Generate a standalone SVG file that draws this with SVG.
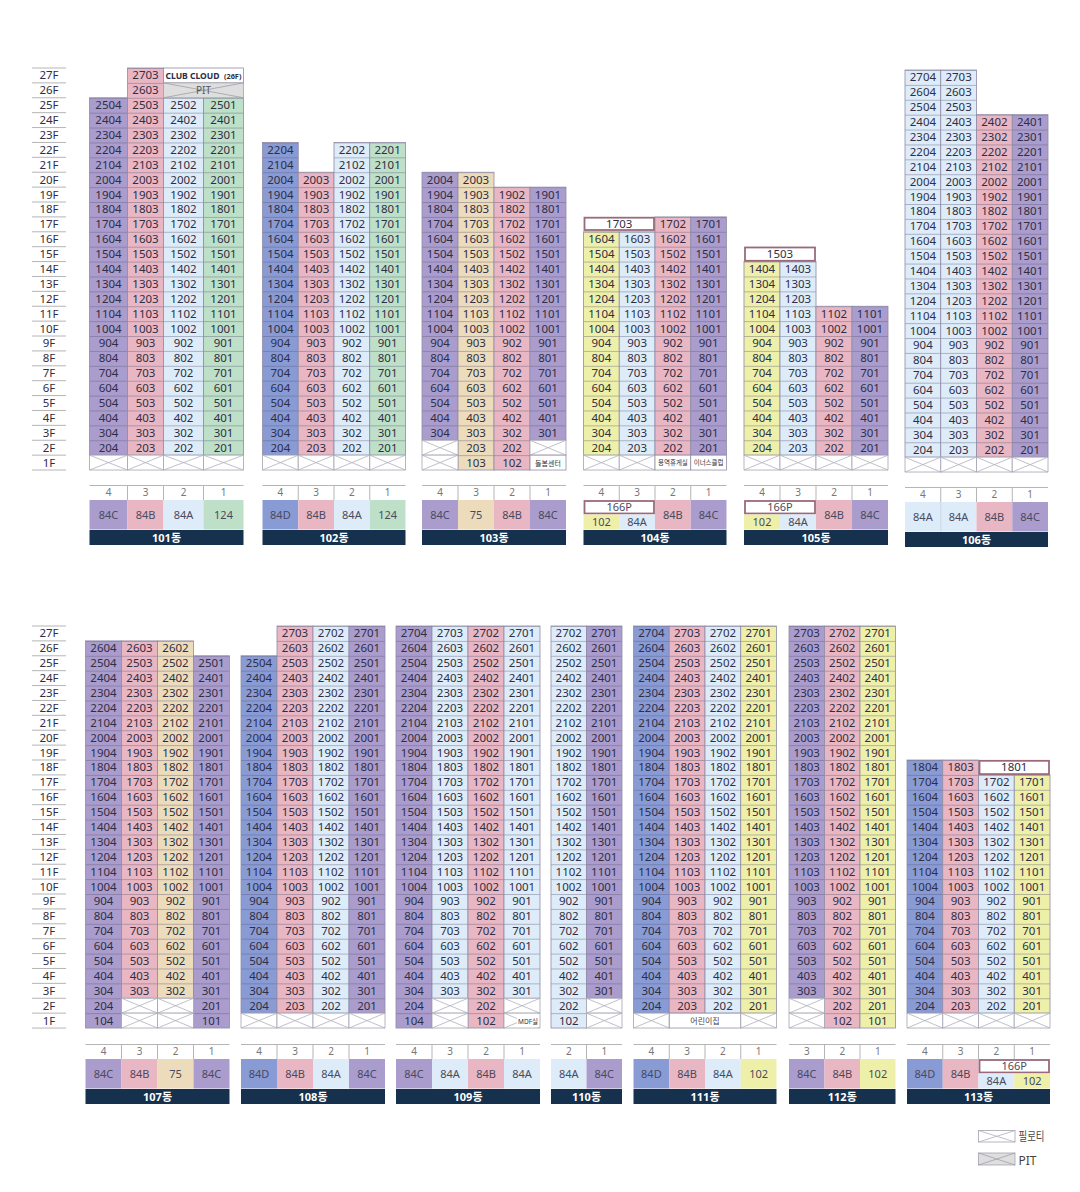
<svg xmlns="http://www.w3.org/2000/svg" width="1080" height="1192" viewBox="0 0 1080 1192">
<style>
text{font-family:"Noto Sans","Noto Sans CJK KR",sans-serif;font-size:11.5px;fill:#2e2e44;text-anchor:middle}
.c{stroke:#8e8ca6;stroke-width:.8}
.Pu{fill:url(#Pu)}.Pk{fill:url(#Pk)}.Lb{fill:url(#Lb)}.Gr{fill:url(#Gr)}.Bl{fill:url(#Bl)}.Tn{fill:url(#Tn)}.Ye{fill:url(#Ye)}
.pu{fill:#aa9dcd}.pk{fill:#e9b7c3}.lb{fill:#ddecf8}.gr{fill:#bee0c8}.bl{fill:#899bd5}.tn{fill:#ecdcbc}.ye{fill:#eef0aa}
.bar{fill:#15314d}.bt{fill:#fff;font-weight:700;font-size:11px}
.n{fill:#777;font-size:10px}.u{fill:#4a4a5e;font-size:11px}
.ln{stroke:#b5b5b5;stroke-width:1;fill:none}
.box{fill:#fff;stroke:#9a6a7c;stroke-width:1.8}
.wc{fill:#fff;stroke:#8e8ca6;stroke-width:.8}
.fl{fill:#555;font-size:11px}
.sm{font-size:6.5px;fill:#333}
.sm7{font-size:7px;fill:#333}
.cl{font-size:9.5px;font-weight:700;text-anchor:start}
.cs{font-size:6.5px;font-weight:700;text-anchor:start}
.pit{font-size:10px;fill:#555}
.kid{font-size:8px;fill:#444}
.lg{font-size:12px;fill:#444;text-anchor:start}
</style>
<defs>
<pattern id="Pu" width="50" height="15" patternUnits="userSpaceOnUse"><rect width="50" height="15" fill="#aa9dcd"/><rect width="50" height=".8" fill="#5c5878" opacity=".5"/></pattern>
<pattern id="Pk" width="50" height="15" patternUnits="userSpaceOnUse"><rect width="50" height="15" fill="#e9b7c3"/><rect width="50" height=".8" fill="#5c5878" opacity=".5"/></pattern>
<pattern id="Lb" width="50" height="15" patternUnits="userSpaceOnUse"><rect width="50" height="15" fill="#ddecf8"/><rect width="50" height=".8" fill="#5c5878" opacity=".5"/></pattern>
<pattern id="Gr" width="50" height="15" patternUnits="userSpaceOnUse"><rect width="50" height="15" fill="#bee0c8"/><rect width="50" height=".8" fill="#5c5878" opacity=".5"/></pattern>
<pattern id="Bl" width="50" height="15" patternUnits="userSpaceOnUse"><rect width="50" height="15" fill="#899bd5"/><rect width="50" height=".8" fill="#5c5878" opacity=".5"/></pattern>
<pattern id="Tn" width="50" height="15" patternUnits="userSpaceOnUse"><rect width="50" height="15" fill="#ecdcbc"/><rect width="50" height=".8" fill="#5c5878" opacity=".5"/></pattern>
<pattern id="Ye" width="50" height="15" patternUnits="userSpaceOnUse"><rect width="50" height="15" fill="#eef0aa"/><rect width="50" height=".8" fill="#5c5878" opacity=".5"/></pattern>
<symbol id="X" viewBox="0 0 36 15" preserveAspectRatio="none" overflow="visible"><rect width="36" height="15" fill="#fff" stroke="#a2a2b0" stroke-width=".8" vector-effect="non-scaling-stroke"/><path d="M0 0L36 15M0 15L36 0" stroke="#b0b0bc" stroke-width=".8" fill="none" vector-effect="non-scaling-stroke"/></symbol>
<symbol id="P" viewBox="0 0 36 15" preserveAspectRatio="none" overflow="visible"><rect width="36" height="15" fill="#dedede" stroke="#a2a2b0" stroke-width=".8" vector-effect="non-scaling-stroke"/><path d="M0 0L36 15M0 15L36 0" stroke="#a0a0a8" stroke-width=".8" fill="none" vector-effect="non-scaling-stroke"/></symbol>
</defs>
<rect width="1080" height="1192" fill="#fff"/>

<g id="floors-top" transform="translate(0,68) scale(1,.99267)">
<path class="ln" d="M32 0H66M32 15H66M32 30H66M32 45H66M32 60H66M32 75H66M32 90H66M32 105H66M32 120H66M32 135H66M32 150H66M32 165H66M32 180H66M32 195H66M32 210H66M32 225H66M32 240H66M32 255H66M32 270H66M32 285H66M32 300H66M32 315H66M32 330H66M32 345H66M32 360H66M32 375H66M32 390H66M32 405H66"/>
<g class="fl" transform="translate(49,.5)"><text y="11">27F</text><text y="26">26F</text><text y="41">25F</text><text y="56">24F</text><text y="71">23F</text><text y="86">22F</text><text y="101">21F</text><text y="116">20F</text><text y="131">19F</text><text y="146">18F</text><text y="161">17F</text><text y="176">16F</text><text y="191">15F</text><text y="206">14F</text><text y="221">13F</text><text y="236">12F</text><text y="251">11F</text><text y="266">10F</text><text y="281">9F</text><text y="296">8F</text><text y="311">7F</text><text y="326">6F</text><text y="341">5F</text><text y="356">4F</text><text y="371">3F</text><text y="386">2F</text><text y="401">1F</text></g>
</g>
<g id="floors-bottom" transform="translate(0,626) scale(1,.99267)">
<path class="ln" d="M32 0H66M32 15H66M32 30H66M32 45H66M32 60H66M32 75H66M32 90H66M32 105H66M32 120H66M32 135H66M32 150H66M32 165H66M32 180H66M32 195H66M32 210H66M32 225H66M32 240H66M32 255H66M32 270H66M32 285H66M32 300H66M32 315H66M32 330H66M32 345H66M32 360H66M32 375H66M32 390H66M32 405H66"/>
<g class="fl" transform="translate(49,.5)"><text y="11">27F</text><text y="26">26F</text><text y="41">25F</text><text y="56">24F</text><text y="71">23F</text><text y="86">22F</text><text y="101">21F</text><text y="116">20F</text><text y="131">19F</text><text y="146">18F</text><text y="161">17F</text><text y="176">16F</text><text y="191">15F</text><text y="206">14F</text><text y="221">13F</text><text y="236">12F</text><text y="251">11F</text><text y="266">10F</text><text y="281">9F</text><text y="296">8F</text><text y="311">7F</text><text y="326">6F</text><text y="341">5F</text><text y="356">4F</text><text y="371">3F</text><text y="386">2F</text><text y="401">1F</text></g>
</g>

<g id="connectors"></g>

<!-- 101 -->
<g id="b101">
<g transform="translate(89.5,68) scale(1,.99267)">
<rect class="c Pu" y="30" width="38" height="360"/>
<rect class="c Pk" x="38" width="36" height="390"/>
<rect class="c Lb" x="74" y="30" width="40" height="360"/>
<rect class="c Gr" x="114" y="30" width="40" height="360"/>
<rect class="wc" x="74" width="80" height="15"/>
<text class="cl" x="76" y="11.3" textLength="54" lengthAdjust="spacingAndGlyphs">CLUB CLOUD</text>
<text class="cs" x="134.5" y="10.8" textLength="17.5" lengthAdjust="spacingAndGlyphs">(26F)</text>
<use href="#P" x="74" y="15" width="80" height="15"/>
<text class="pit" x="114" y="26.5">PIT</text>
<use href="#X" y="390" width="38" height="15"/><use href="#X" x="38" y="390" width="36" height="15"/><use href="#X" x="74" y="390" width="40" height="15"/><use href="#X" x="114" y="390" width="40" height="15"/>
<g transform="translate(19,.5)"><text y="41">2504</text><text y="56">2404</text><text y="71">2304</text><text y="86">2204</text><text y="101">2104</text><text y="116">2004</text><text y="131">1904</text><text y="146">1804</text><text y="161">1704</text><text y="176">1604</text><text y="191">1504</text><text y="206">1404</text><text y="221">1304</text><text y="236">1204</text><text y="251">1104</text><text y="266">1004</text><text y="281">904</text><text y="296">804</text><text y="311">704</text><text y="326">604</text><text y="341">504</text><text y="356">404</text><text y="371">304</text><text y="386">204</text></g>
<g transform="translate(56,.5)"><text y="11">2703</text><text y="26">2603</text><text y="41">2503</text><text y="56">2403</text><text y="71">2303</text><text y="86">2203</text><text y="101">2103</text><text y="116">2003</text><text y="131">1903</text><text y="146">1803</text><text y="161">1703</text><text y="176">1603</text><text y="191">1503</text><text y="206">1403</text><text y="221">1303</text><text y="236">1203</text><text y="251">1103</text><text y="266">1003</text><text y="281">903</text><text y="296">803</text><text y="311">703</text><text y="326">603</text><text y="341">503</text><text y="356">403</text><text y="371">303</text><text y="386">203</text></g>
<g transform="translate(94,.5)"><text y="41">2502</text><text y="56">2402</text><text y="71">2302</text><text y="86">2202</text><text y="101">2102</text><text y="116">2002</text><text y="131">1902</text><text y="146">1802</text><text y="161">1702</text><text y="176">1602</text><text y="191">1502</text><text y="206">1402</text><text y="221">1302</text><text y="236">1202</text><text y="251">1102</text><text y="266">1002</text><text y="281">902</text><text y="296">802</text><text y="311">702</text><text y="326">602</text><text y="341">502</text><text y="356">402</text><text y="371">302</text><text y="386">202</text></g>
<g transform="translate(134,.5)"><text y="41">2501</text><text y="56">2401</text><text y="71">2301</text><text y="86">2201</text><text y="101">2101</text><text y="116">2001</text><text y="131">1901</text><text y="146">1801</text><text y="161">1701</text><text y="176">1601</text><text y="191">1501</text><text y="206">1401</text><text y="221">1301</text><text y="236">1201</text><text y="251">1101</text><text y="266">1001</text><text y="281">901</text><text y="296">801</text><text y="311">701</text><text y="326">601</text><text y="341">501</text><text y="356">401</text><text y="371">301</text><text y="386">201</text></g>
</g>
<g transform="translate(89.5,485)">
<path class="ln" d="M0 .5H154M38 0V15M74 0V15M114 0V15"/>
<text class="n" x="19" y="11">4</text><text class="n" x="56" y="11">3</text><text class="n" x="94" y="11">2</text><text class="n" x="134" y="11">1</text>
<rect class="pu" y="15" width="38" height="29.5"/><rect class="pk" x="38" y="15" width="36" height="29.5"/><rect class="lb" x="74" y="15" width="40" height="29.5"/><rect class="gr" x="114" y="15" width="40" height="29.5"/>
<text class="u" x="19" y="33.7">84C</text><text class="u" x="56" y="33.7">84B</text><text class="u" x="94" y="33.7">84A</text><text class="u" x="134" y="33.7">124</text>
<rect class="bar" y="45" width="154" height="15"/><text class="bt" x="77" y="56.5">101동</text>
</g>
</g>

<!-- 102 -->
<g id="b102">
<g transform="translate(262.5,68) scale(1,.99267)">
<rect class="c Bl" y="75" width="35.75" height="315"/>
<rect class="c Pk" x="35.75" y="105" width="35.75" height="285"/>
<rect class="c Lb" x="71.5" y="75" width="35.75" height="315"/>
<rect class="c Gr" x="107.25" y="75" width="35.75" height="315"/>
<use href="#X" y="390" width="35.75" height="15"/><use href="#X" x="35.75" y="390" width="35.75" height="15"/><use href="#X" x="71.5" y="390" width="35.75" height="15"/><use href="#X" x="107.25" y="390" width="35.75" height="15"/>
<g transform="translate(17.9,.5)"><text y="86">2204</text><text y="101">2104</text><text y="116">2004</text><text y="131">1904</text><text y="146">1804</text><text y="161">1704</text><text y="176">1604</text><text y="191">1504</text><text y="206">1404</text><text y="221">1304</text><text y="236">1204</text><text y="251">1104</text><text y="266">1004</text><text y="281">904</text><text y="296">804</text><text y="311">704</text><text y="326">604</text><text y="341">504</text><text y="356">404</text><text y="371">304</text><text y="386">204</text></g>
<g transform="translate(53.6,.5)"><text y="116">2003</text><text y="131">1903</text><text y="146">1803</text><text y="161">1703</text><text y="176">1603</text><text y="191">1503</text><text y="206">1403</text><text y="221">1303</text><text y="236">1203</text><text y="251">1103</text><text y="266">1003</text><text y="281">903</text><text y="296">803</text><text y="311">703</text><text y="326">603</text><text y="341">503</text><text y="356">403</text><text y="371">303</text><text y="386">203</text></g>
<g transform="translate(89.4,.5)"><text y="86">2202</text><text y="101">2102</text><text y="116">2002</text><text y="131">1902</text><text y="146">1802</text><text y="161">1702</text><text y="176">1602</text><text y="191">1502</text><text y="206">1402</text><text y="221">1302</text><text y="236">1202</text><text y="251">1102</text><text y="266">1002</text><text y="281">902</text><text y="296">802</text><text y="311">702</text><text y="326">602</text><text y="341">502</text><text y="356">402</text><text y="371">302</text><text y="386">202</text></g>
<g transform="translate(125.1,.5)"><text y="86">2201</text><text y="101">2101</text><text y="116">2001</text><text y="131">1901</text><text y="146">1801</text><text y="161">1701</text><text y="176">1601</text><text y="191">1501</text><text y="206">1401</text><text y="221">1301</text><text y="236">1201</text><text y="251">1101</text><text y="266">1001</text><text y="281">901</text><text y="296">801</text><text y="311">701</text><text y="326">601</text><text y="341">501</text><text y="356">401</text><text y="371">301</text><text y="386">201</text></g>
</g>
<g transform="translate(262.5,485)">
<path class="ln" d="M0 .5H143M35.75 0V15M71.5 0V15M107.25 0V15"/>
<text class="n" x="17.9" y="11">4</text><text class="n" x="53.6" y="11">3</text><text class="n" x="89.4" y="11">2</text><text class="n" x="125.1" y="11">1</text>
<rect class="bl" y="15" width="35.75" height="29.5"/><rect class="pk" x="35.75" y="15" width="35.75" height="29.5"/><rect class="lb" x="71.5" y="15" width="35.75" height="29.5"/><rect class="gr" x="107.25" y="15" width="35.75" height="29.5"/>
<text class="u" x="17.9" y="33.7">84D</text><text class="u" x="53.6" y="33.7">84B</text><text class="u" x="89.4" y="33.7">84A</text><text class="u" x="125.1" y="33.7">124</text>
<rect class="bar" y="45" width="143" height="15"/><text class="bt" x="71.5" y="56.5">102동</text>
</g>
</g>

<!-- 103 -->
<g id="b103">
<g transform="translate(422,68) scale(1,.99267)">
<rect class="c Pu" y="105" width="36" height="270"/>
<rect class="c Tn" x="36" y="105" width="36" height="300"/>
<rect class="c Pk" x="72" y="120" width="36" height="285"/>
<rect class="c Pu" x="108" y="120" width="36" height="255"/>
<use href="#X" y="375" width="36" height="15"/><use href="#X" y="390" width="36" height="15"/><use href="#X" x="108" y="375" width="36" height="15"/>
<rect class="wc" x="108" y="390" width="36" height="15"/><text class="sm7" x="126" y="400.5">돌봄센터</text>
<g transform="translate(18,.5)"><text y="116">2004</text><text y="131">1904</text><text y="146">1804</text><text y="161">1704</text><text y="176">1604</text><text y="191">1504</text><text y="206">1404</text><text y="221">1304</text><text y="236">1204</text><text y="251">1104</text><text y="266">1004</text><text y="281">904</text><text y="296">804</text><text y="311">704</text><text y="326">604</text><text y="341">504</text><text y="356">404</text><text y="371">304</text></g>
<g transform="translate(54,.5)"><text y="116">2003</text><text y="131">1903</text><text y="146">1803</text><text y="161">1703</text><text y="176">1603</text><text y="191">1503</text><text y="206">1403</text><text y="221">1303</text><text y="236">1203</text><text y="251">1103</text><text y="266">1003</text><text y="281">903</text><text y="296">803</text><text y="311">703</text><text y="326">603</text><text y="341">503</text><text y="356">403</text><text y="371">303</text><text y="386">203</text><text y="401">103</text></g>
<g transform="translate(90,.5)"><text y="131">1902</text><text y="146">1802</text><text y="161">1702</text><text y="176">1602</text><text y="191">1502</text><text y="206">1402</text><text y="221">1302</text><text y="236">1202</text><text y="251">1102</text><text y="266">1002</text><text y="281">902</text><text y="296">802</text><text y="311">702</text><text y="326">602</text><text y="341">502</text><text y="356">402</text><text y="371">302</text><text y="386">202</text><text y="401">102</text></g>
<g transform="translate(126,.5)"><text y="131">1901</text><text y="146">1801</text><text y="161">1701</text><text y="176">1601</text><text y="191">1501</text><text y="206">1401</text><text y="221">1301</text><text y="236">1201</text><text y="251">1101</text><text y="266">1001</text><text y="281">901</text><text y="296">801</text><text y="311">701</text><text y="326">601</text><text y="341">501</text><text y="356">401</text><text y="371">301</text></g>
</g>
<g transform="translate(422,485)">
<path class="ln" d="M0 .5H144M36 0V15M72 0V15M108 0V15"/>
<text class="n" x="18" y="11">4</text><text class="n" x="54" y="11">3</text><text class="n" x="90" y="11">2</text><text class="n" x="126" y="11">1</text>
<rect class="pu" y="15" width="36" height="29.5"/><rect class="tn" x="36" y="15" width="36" height="29.5"/><rect class="pk" x="72" y="15" width="36" height="29.5"/><rect class="pu" x="108" y="15" width="36" height="29.5"/>
<text class="u" x="18" y="33.7">84C</text><text class="u" x="54" y="33.7">75</text><text class="u" x="90" y="33.7">84B</text><text class="u" x="126" y="33.7">84C</text>
<rect class="bar" y="45" width="144" height="15"/><text class="bt" x="72" y="56.5">103동</text>
</g>
</g>

<!-- 104 -->
<g id="b104">
<g transform="translate(583.5,68) scale(1,.99267)">
<rect class="c Ye" y="165" width="35.75" height="225"/>
<rect class="c Lb" x="35.75" y="165" width="35.75" height="225"/>
<rect class="c Pk" x="71.5" y="150" width="35.75" height="240"/>
<rect class="c Pu" x="107.25" y="150" width="35.75" height="240"/>
<rect class="box" x="1" y="150.8" width="69.5" height="12.4"/><text x="35.75" y="161.5">1703</text>
<use href="#X" y="390" width="35.75" height="15"/><use href="#X" x="35.75" y="390" width="35.75" height="15"/>
<rect class="wc" x="71.5" y="390" width="35.75" height="15"/><rect class="wc" x="107.25" y="390" width="35.75" height="15"/>
<text class="sm" x="89.4" y="400.3">용역휴게실</text><text class="sm" x="125.1" y="400.3">이너스클럽</text>
<g transform="translate(17.9,.5)"><text y="176">1604</text><text y="191">1504</text><text y="206">1404</text><text y="221">1304</text><text y="236">1204</text><text y="251">1104</text><text y="266">1004</text><text y="281">904</text><text y="296">804</text><text y="311">704</text><text y="326">604</text><text y="341">504</text><text y="356">404</text><text y="371">304</text><text y="386">204</text></g>
<g transform="translate(53.6,.5)"><text y="176">1603</text><text y="191">1503</text><text y="206">1403</text><text y="221">1303</text><text y="236">1203</text><text y="251">1103</text><text y="266">1003</text><text y="281">903</text><text y="296">803</text><text y="311">703</text><text y="326">603</text><text y="341">503</text><text y="356">403</text><text y="371">303</text><text y="386">203</text></g>
<g transform="translate(89.4,.5)"><text y="161">1702</text><text y="176">1602</text><text y="191">1502</text><text y="206">1402</text><text y="221">1302</text><text y="236">1202</text><text y="251">1102</text><text y="266">1002</text><text y="281">902</text><text y="296">802</text><text y="311">702</text><text y="326">602</text><text y="341">502</text><text y="356">402</text><text y="371">302</text><text y="386">202</text></g>
<g transform="translate(125.1,.5)"><text y="161">1701</text><text y="176">1601</text><text y="191">1501</text><text y="206">1401</text><text y="221">1301</text><text y="236">1201</text><text y="251">1101</text><text y="266">1001</text><text y="281">901</text><text y="296">801</text><text y="311">701</text><text y="326">601</text><text y="341">501</text><text y="356">401</text><text y="371">301</text><text y="386">201</text></g>
</g>
<g transform="translate(583.5,485)">
<path class="ln" d="M0 .5H143M35.75 0V15M71.5 0V15M107.25 0V15"/>
<text class="n" x="17.9" y="11">4</text><text class="n" x="53.6" y="11">3</text><text class="n" x="89.4" y="11">2</text><text class="n" x="125.1" y="11">1</text>
<rect class="box" x="1" y="16" width="69.5" height="12.5"/><text class="u" x="35.75" y="26">166P</text>
<rect class="ye" y="29.5" width="35.75" height="15"/><rect class="lb" x="35.75" y="29.5" width="35.75" height="15"/>
<text class="u" x="17.9" y="41">102</text><text class="u" x="53.6" y="41">84A</text>
<rect class="pk" x="71.5" y="15" width="35.75" height="29.5"/><rect class="pu" x="107.25" y="15" width="35.75" height="29.5"/>
<text class="u" x="89.4" y="33.7">84B</text><text class="u" x="125.1" y="33.7">84C</text>
<rect class="bar" y="45" width="143" height="15"/><text class="bt" x="71.5" y="56.5">104동</text>
</g>
</g>

<!-- 105 -->
<g id="b105">
<g transform="translate(744,68) scale(1,.99267)">
<rect class="c Ye" y="195" width="36" height="195"/>
<rect class="c Lb" x="36" y="195" width="36" height="195"/>
<rect class="c Pk" x="72" y="240" width="36" height="150"/>
<rect class="c Pu" x="108" y="240" width="36" height="150"/>
<rect class="box" x="1" y="180.8" width="70" height="13.4"/><text x="36" y="191.5">1503</text>
<use href="#X" y="390" width="36" height="15"/><use href="#X" x="36" y="390" width="36" height="15"/><use href="#X" x="72" y="390" width="36" height="15"/><use href="#X" x="108" y="390" width="36" height="15"/>
<g transform="translate(18,.5)"><text y="206">1404</text><text y="221">1304</text><text y="236">1204</text><text y="251">1104</text><text y="266">1004</text><text y="281">904</text><text y="296">804</text><text y="311">704</text><text y="326">604</text><text y="341">504</text><text y="356">404</text><text y="371">304</text><text y="386">204</text></g>
<g transform="translate(54,.5)"><text y="206">1403</text><text y="221">1303</text><text y="236">1203</text><text y="251">1103</text><text y="266">1003</text><text y="281">903</text><text y="296">803</text><text y="311">703</text><text y="326">603</text><text y="341">503</text><text y="356">403</text><text y="371">303</text><text y="386">203</text></g>
<g transform="translate(90,.5)"><text y="251">1102</text><text y="266">1002</text><text y="281">902</text><text y="296">802</text><text y="311">702</text><text y="326">602</text><text y="341">502</text><text y="356">402</text><text y="371">302</text><text y="386">202</text></g>
<g transform="translate(126,.5)"><text y="251">1101</text><text y="266">1001</text><text y="281">901</text><text y="296">801</text><text y="311">701</text><text y="326">601</text><text y="341">501</text><text y="356">401</text><text y="371">301</text><text y="386">201</text></g>
</g>
<g transform="translate(744,485)">
<path class="ln" d="M0 .5H144M36 0V15M72 0V15M108 0V15"/>
<text class="n" x="18" y="11">4</text><text class="n" x="54" y="11">3</text><text class="n" x="90" y="11">2</text><text class="n" x="126" y="11">1</text>
<rect class="box" x="1" y="16" width="70" height="12.5"/><text class="u" x="36" y="26">166P</text>
<rect class="ye" y="29.5" width="36" height="15"/><rect class="lb" x="36" y="29.5" width="36" height="15"/>
<text class="u" x="18" y="41">102</text><text class="u" x="54" y="41">84A</text>
<rect class="pk" x="72" y="15" width="36" height="29.5"/><rect class="pu" x="108" y="15" width="36" height="29.5"/>
<text class="u" x="90" y="33.7">84B</text><text class="u" x="126" y="33.7">84C</text>
<rect class="bar" y="45" width="144" height="15"/><text class="bt" x="72" y="56.5">105동</text>
</g>
</g>

<!-- 106 -->
<g id="b106">
<g transform="translate(905,70) scale(1,.99267)">
<rect class="c Lb" width="35.75" height="390"/>
<rect class="c Lb" x="35.75" width="35.75" height="390"/>
<rect class="c Pk" x="71.5" y="45" width="35.75" height="345"/>
<rect class="c Pu" x="107.25" y="45" width="35.75" height="345"/>
<use href="#X" y="390" width="35.75" height="15"/><use href="#X" x="35.75" y="390" width="35.75" height="15"/><use href="#X" x="71.5" y="390" width="35.75" height="15"/><use href="#X" x="107.25" y="390" width="35.75" height="15"/>
<g transform="translate(17.9,.5)"><text y="11">2704</text><text y="26">2604</text><text y="41">2504</text><text y="56">2404</text><text y="71">2304</text><text y="86">2204</text><text y="101">2104</text><text y="116">2004</text><text y="131">1904</text><text y="146">1804</text><text y="161">1704</text><text y="176">1604</text><text y="191">1504</text><text y="206">1404</text><text y="221">1304</text><text y="236">1204</text><text y="251">1104</text><text y="266">1004</text><text y="281">904</text><text y="296">804</text><text y="311">704</text><text y="326">604</text><text y="341">504</text><text y="356">404</text><text y="371">304</text><text y="386">204</text></g>
<g transform="translate(53.6,.5)"><text y="11">2703</text><text y="26">2603</text><text y="41">2503</text><text y="56">2403</text><text y="71">2303</text><text y="86">2203</text><text y="101">2103</text><text y="116">2003</text><text y="131">1903</text><text y="146">1803</text><text y="161">1703</text><text y="176">1603</text><text y="191">1503</text><text y="206">1403</text><text y="221">1303</text><text y="236">1203</text><text y="251">1103</text><text y="266">1003</text><text y="281">903</text><text y="296">803</text><text y="311">703</text><text y="326">603</text><text y="341">503</text><text y="356">403</text><text y="371">303</text><text y="386">203</text></g>
<g transform="translate(89.4,.5)"><text y="56">2402</text><text y="71">2302</text><text y="86">2202</text><text y="101">2102</text><text y="116">2002</text><text y="131">1902</text><text y="146">1802</text><text y="161">1702</text><text y="176">1602</text><text y="191">1502</text><text y="206">1402</text><text y="221">1302</text><text y="236">1202</text><text y="251">1102</text><text y="266">1002</text><text y="281">902</text><text y="296">802</text><text y="311">702</text><text y="326">602</text><text y="341">502</text><text y="356">402</text><text y="371">302</text><text y="386">202</text></g>
<g transform="translate(125.1,.5)"><text y="56">2401</text><text y="71">2301</text><text y="86">2201</text><text y="101">2101</text><text y="116">2001</text><text y="131">1901</text><text y="146">1801</text><text y="161">1701</text><text y="176">1601</text><text y="191">1501</text><text y="206">1401</text><text y="221">1301</text><text y="236">1201</text><text y="251">1101</text><text y="266">1001</text><text y="281">901</text><text y="296">801</text><text y="311">701</text><text y="326">601</text><text y="341">501</text><text y="356">401</text><text y="371">301</text><text y="386">201</text></g>
</g>
<g transform="translate(905,487)">
<path class="ln" d="M0 .5H143M35.75 0V15M71.5 0V15M107.25 0V15"/>
<text class="n" x="17.9" y="11">4</text><text class="n" x="53.6" y="11">3</text><text class="n" x="89.4" y="11">2</text><text class="n" x="125.1" y="11">1</text>
<rect class="lb" y="15" width="35.75" height="29.5"/><rect class="lb" x="35.75" y="15" width="35.75" height="29.5"/><rect class="pk" x="71.5" y="15" width="35.75" height="29.5"/><rect class="pu" x="107.25" y="15" width="35.75" height="29.5"/>
<path d="M35.75 15V44.5" stroke="#c3d3e2" stroke-width=".8"/>
<text class="u" x="17.9" y="33.7">84A</text><text class="u" x="53.6" y="33.7">84A</text><text class="u" x="89.4" y="33.7">84B</text><text class="u" x="125.1" y="33.7">84C</text>
<rect class="bar" y="45" width="143" height="15"/><text class="bt" x="71.5" y="56.5">106동</text>
</g>
</g>

<!-- 107 -->
<g id="b107">
<g transform="translate(85.5,626) scale(1,.99267)">
<rect class="c Pu" y="15" width="36" height="390"/>
<rect class="c Pk" x="36" y="15" width="36" height="360"/>
<rect class="c Tn" x="72" y="15" width="36" height="360"/>
<rect class="c Pu" x="108" y="30" width="36" height="375"/>
<use href="#X" x="36" y="375" width="36" height="15"/><use href="#X" x="36" y="390" width="36" height="15"/><use href="#X" x="72" y="375" width="36" height="15"/><use href="#X" x="72" y="390" width="36" height="15"/>
<g transform="translate(18,.5)"><text y="26">2604</text><text y="41">2504</text><text y="56">2404</text><text y="71">2304</text><text y="86">2204</text><text y="101">2104</text><text y="116">2004</text><text y="131">1904</text><text y="146">1804</text><text y="161">1704</text><text y="176">1604</text><text y="191">1504</text><text y="206">1404</text><text y="221">1304</text><text y="236">1204</text><text y="251">1104</text><text y="266">1004</text><text y="281">904</text><text y="296">804</text><text y="311">704</text><text y="326">604</text><text y="341">504</text><text y="356">404</text><text y="371">304</text><text y="386">204</text><text y="401">104</text></g>
<g transform="translate(54,.5)"><text y="26">2603</text><text y="41">2503</text><text y="56">2403</text><text y="71">2303</text><text y="86">2203</text><text y="101">2103</text><text y="116">2003</text><text y="131">1903</text><text y="146">1803</text><text y="161">1703</text><text y="176">1603</text><text y="191">1503</text><text y="206">1403</text><text y="221">1303</text><text y="236">1203</text><text y="251">1103</text><text y="266">1003</text><text y="281">903</text><text y="296">803</text><text y="311">703</text><text y="326">603</text><text y="341">503</text><text y="356">403</text><text y="371">303</text></g>
<g transform="translate(90,.5)"><text y="26">2602</text><text y="41">2502</text><text y="56">2402</text><text y="71">2302</text><text y="86">2202</text><text y="101">2102</text><text y="116">2002</text><text y="131">1902</text><text y="146">1802</text><text y="161">1702</text><text y="176">1602</text><text y="191">1502</text><text y="206">1402</text><text y="221">1302</text><text y="236">1202</text><text y="251">1102</text><text y="266">1002</text><text y="281">902</text><text y="296">802</text><text y="311">702</text><text y="326">602</text><text y="341">502</text><text y="356">402</text><text y="371">302</text></g>
<g transform="translate(126,.5)"><text y="41">2501</text><text y="56">2401</text><text y="71">2301</text><text y="86">2201</text><text y="101">2101</text><text y="116">2001</text><text y="131">1901</text><text y="146">1801</text><text y="161">1701</text><text y="176">1601</text><text y="191">1501</text><text y="206">1401</text><text y="221">1301</text><text y="236">1201</text><text y="251">1101</text><text y="266">1001</text><text y="281">901</text><text y="296">801</text><text y="311">701</text><text y="326">601</text><text y="341">501</text><text y="356">401</text><text y="371">301</text><text y="386">201</text><text y="401">101</text></g>
</g>
<g transform="translate(85.5,1044)">
<path class="ln" d="M0 .5H144M36 0V15M72 0V15M108 0V15"/>
<text class="n" x="18" y="11">4</text><text class="n" x="54" y="11">3</text><text class="n" x="90" y="11">2</text><text class="n" x="126" y="11">1</text>
<rect class="pu" y="15" width="36" height="29.5"/><rect class="pk" x="36" y="15" width="36" height="29.5"/><rect class="tn" x="72" y="15" width="36" height="29.5"/><rect class="pu" x="108" y="15" width="36" height="29.5"/>
<text class="u" x="18" y="33.7">84C</text><text class="u" x="54" y="33.7">84B</text><text class="u" x="90" y="33.7">75</text><text class="u" x="126" y="33.7">84C</text>
<rect class="bar" y="45" width="144" height="15"/><text class="bt" x="72" y="56.5">107동</text>
</g>
</g>

<!-- 108 -->
<g id="b108">
<g transform="translate(241,626) scale(1,.99267)">
<rect class="c Bl" y="30" width="36" height="360"/>
<rect class="c Pk" x="36" width="36" height="390"/>
<rect class="c Lb" x="72" width="36" height="390"/>
<rect class="c Pu" x="108" width="36" height="390"/>
<use href="#X" y="390" width="36" height="15"/><use href="#X" x="36" y="390" width="36" height="15"/><use href="#X" x="72" y="390" width="36" height="15"/><use href="#X" x="108" y="390" width="36" height="15"/>
<g transform="translate(18,.5)"><text y="41">2504</text><text y="56">2404</text><text y="71">2304</text><text y="86">2204</text><text y="101">2104</text><text y="116">2004</text><text y="131">1904</text><text y="146">1804</text><text y="161">1704</text><text y="176">1604</text><text y="191">1504</text><text y="206">1404</text><text y="221">1304</text><text y="236">1204</text><text y="251">1104</text><text y="266">1004</text><text y="281">904</text><text y="296">804</text><text y="311">704</text><text y="326">604</text><text y="341">504</text><text y="356">404</text><text y="371">304</text><text y="386">204</text></g>
<g transform="translate(54,.5)"><text y="11">2703</text><text y="26">2603</text><text y="41">2503</text><text y="56">2403</text><text y="71">2303</text><text y="86">2203</text><text y="101">2103</text><text y="116">2003</text><text y="131">1903</text><text y="146">1803</text><text y="161">1703</text><text y="176">1603</text><text y="191">1503</text><text y="206">1403</text><text y="221">1303</text><text y="236">1203</text><text y="251">1103</text><text y="266">1003</text><text y="281">903</text><text y="296">803</text><text y="311">703</text><text y="326">603</text><text y="341">503</text><text y="356">403</text><text y="371">303</text><text y="386">203</text></g>
<g transform="translate(90,.5)"><text y="11">2702</text><text y="26">2602</text><text y="41">2502</text><text y="56">2402</text><text y="71">2302</text><text y="86">2202</text><text y="101">2102</text><text y="116">2002</text><text y="131">1902</text><text y="146">1802</text><text y="161">1702</text><text y="176">1602</text><text y="191">1502</text><text y="206">1402</text><text y="221">1302</text><text y="236">1202</text><text y="251">1102</text><text y="266">1002</text><text y="281">902</text><text y="296">802</text><text y="311">702</text><text y="326">602</text><text y="341">502</text><text y="356">402</text><text y="371">302</text><text y="386">202</text></g>
<g transform="translate(126,.5)"><text y="11">2701</text><text y="26">2601</text><text y="41">2501</text><text y="56">2401</text><text y="71">2301</text><text y="86">2201</text><text y="101">2101</text><text y="116">2001</text><text y="131">1901</text><text y="146">1801</text><text y="161">1701</text><text y="176">1601</text><text y="191">1501</text><text y="206">1401</text><text y="221">1301</text><text y="236">1201</text><text y="251">1101</text><text y="266">1001</text><text y="281">901</text><text y="296">801</text><text y="311">701</text><text y="326">601</text><text y="341">501</text><text y="356">401</text><text y="371">301</text><text y="386">201</text></g>
</g>
<g transform="translate(241,1044)">
<path class="ln" d="M0 .5H144M36 0V15M72 0V15M108 0V15"/>
<text class="n" x="18" y="11">4</text><text class="n" x="54" y="11">3</text><text class="n" x="90" y="11">2</text><text class="n" x="126" y="11">1</text>
<rect class="bl" y="15" width="36" height="29.5"/><rect class="pk" x="36" y="15" width="36" height="29.5"/><rect class="lb" x="72" y="15" width="36" height="29.5"/><rect class="pu" x="108" y="15" width="36" height="29.5"/>
<text class="u" x="18" y="33.7">84D</text><text class="u" x="54" y="33.7">84B</text><text class="u" x="90" y="33.7">84A</text><text class="u" x="126" y="33.7">84C</text>
<rect class="bar" y="45" width="144" height="15"/><text class="bt" x="72" y="56.5">108동</text>
</g>
</g>

<!-- 109 -->
<g id="b109">
<g transform="translate(396,626) scale(1,.99267)">
<rect class="c Pu" width="36" height="405"/>
<rect class="c Lb" x="36" width="36" height="375"/>
<rect class="c Pk" x="72" width="36" height="405"/>
<rect class="c Lb" x="108" width="36" height="375"/>
<use href="#X" x="36" y="375" width="36" height="15"/><use href="#X" x="36" y="390" width="36" height="15"/><use href="#X" x="108" y="375" width="36" height="15"/><use href="#X" x="108" y="390" width="36" height="15"/>
<rect x="121" y="391" width="22" height="13" fill="#fff"/><text class="sm" x="132" y="400.5">MDF실</text>
<g transform="translate(18,.5)"><text y="11">2704</text><text y="26">2604</text><text y="41">2504</text><text y="56">2404</text><text y="71">2304</text><text y="86">2204</text><text y="101">2104</text><text y="116">2004</text><text y="131">1904</text><text y="146">1804</text><text y="161">1704</text><text y="176">1604</text><text y="191">1504</text><text y="206">1404</text><text y="221">1304</text><text y="236">1204</text><text y="251">1104</text><text y="266">1004</text><text y="281">904</text><text y="296">804</text><text y="311">704</text><text y="326">604</text><text y="341">504</text><text y="356">404</text><text y="371">304</text><text y="386">204</text><text y="401">104</text></g>
<g transform="translate(54,.5)"><text y="11">2703</text><text y="26">2603</text><text y="41">2503</text><text y="56">2403</text><text y="71">2303</text><text y="86">2203</text><text y="101">2103</text><text y="116">2003</text><text y="131">1903</text><text y="146">1803</text><text y="161">1703</text><text y="176">1603</text><text y="191">1503</text><text y="206">1403</text><text y="221">1303</text><text y="236">1203</text><text y="251">1103</text><text y="266">1003</text><text y="281">903</text><text y="296">803</text><text y="311">703</text><text y="326">603</text><text y="341">503</text><text y="356">403</text><text y="371">303</text></g>
<g transform="translate(90,.5)"><text y="11">2702</text><text y="26">2602</text><text y="41">2502</text><text y="56">2402</text><text y="71">2302</text><text y="86">2202</text><text y="101">2102</text><text y="116">2002</text><text y="131">1902</text><text y="146">1802</text><text y="161">1702</text><text y="176">1602</text><text y="191">1502</text><text y="206">1402</text><text y="221">1302</text><text y="236">1202</text><text y="251">1102</text><text y="266">1002</text><text y="281">902</text><text y="296">802</text><text y="311">702</text><text y="326">602</text><text y="341">502</text><text y="356">402</text><text y="371">302</text><text y="386">202</text><text y="401">102</text></g>
<g transform="translate(126,.5)"><text y="11">2701</text><text y="26">2601</text><text y="41">2501</text><text y="56">2401</text><text y="71">2301</text><text y="86">2201</text><text y="101">2101</text><text y="116">2001</text><text y="131">1901</text><text y="146">1801</text><text y="161">1701</text><text y="176">1601</text><text y="191">1501</text><text y="206">1401</text><text y="221">1301</text><text y="236">1201</text><text y="251">1101</text><text y="266">1001</text><text y="281">901</text><text y="296">801</text><text y="311">701</text><text y="326">601</text><text y="341">501</text><text y="356">401</text><text y="371">301</text></g>
</g>
<g transform="translate(396,1044)">
<path class="ln" d="M0 .5H144M36 0V15M72 0V15M108 0V15"/>
<text class="n" x="18" y="11">4</text><text class="n" x="54" y="11">3</text><text class="n" x="90" y="11">2</text><text class="n" x="126" y="11">1</text>
<rect class="pu" y="15" width="36" height="29.5"/><rect class="lb" x="36" y="15" width="36" height="29.5"/><rect class="pk" x="72" y="15" width="36" height="29.5"/><rect class="lb" x="108" y="15" width="36" height="29.5"/>
<text class="u" x="18" y="33.7">84C</text><text class="u" x="54" y="33.7">84A</text><text class="u" x="90" y="33.7">84B</text><text class="u" x="126" y="33.7">84A</text>
<rect class="bar" y="45" width="144" height="15"/><text class="bt" x="72" y="56.5">109동</text>
</g>
</g>

<!-- 110 -->
<g id="b110">
<g transform="translate(551,626) scale(1,.99267)">
<rect class="c Lb" width="35.5" height="405"/>
<rect class="c Pu" x="35.5" width="35.5" height="375"/>
<use href="#X" x="35.5" y="375" width="35.5" height="15"/><use href="#X" x="35.5" y="390" width="35.5" height="15"/>
<g transform="translate(17.75,.5)"><text y="11">2702</text><text y="26">2602</text><text y="41">2502</text><text y="56">2402</text><text y="71">2302</text><text y="86">2202</text><text y="101">2102</text><text y="116">2002</text><text y="131">1902</text><text y="146">1802</text><text y="161">1702</text><text y="176">1602</text><text y="191">1502</text><text y="206">1402</text><text y="221">1302</text><text y="236">1202</text><text y="251">1102</text><text y="266">1002</text><text y="281">902</text><text y="296">802</text><text y="311">702</text><text y="326">602</text><text y="341">502</text><text y="356">402</text><text y="371">302</text><text y="386">202</text><text y="401">102</text></g>
<g transform="translate(53.25,.5)"><text y="11">2701</text><text y="26">2601</text><text y="41">2501</text><text y="56">2401</text><text y="71">2301</text><text y="86">2201</text><text y="101">2101</text><text y="116">2001</text><text y="131">1901</text><text y="146">1801</text><text y="161">1701</text><text y="176">1601</text><text y="191">1501</text><text y="206">1401</text><text y="221">1301</text><text y="236">1201</text><text y="251">1101</text><text y="266">1001</text><text y="281">901</text><text y="296">801</text><text y="311">701</text><text y="326">601</text><text y="341">501</text><text y="356">401</text><text y="371">301</text></g>
</g>
<g transform="translate(551,1044)">
<path class="ln" d="M0 .5H71M35.5 0V15"/>
<text class="n" x="17.75" y="11">2</text><text class="n" x="53.25" y="11">1</text>
<rect class="lb" y="15" width="35.5" height="29.5"/><rect class="pu" x="35.5" y="15" width="35.5" height="29.5"/>
<text class="u" x="17.75" y="33.7">84A</text><text class="u" x="53.25" y="33.7">84C</text>
<rect class="bar" y="45" width="71" height="15"/><text class="bt" x="35.5" y="56.5">110동</text>
</g>
</g>

<!-- 111 -->
<g id="b111">
<g transform="translate(633.5,626) scale(1,.99267)">
<rect class="c Bl" width="35.75" height="390"/>
<rect class="c Pk" x="35.75" width="35.75" height="390"/>
<rect class="c Lb" x="71.5" width="35.75" height="390"/>
<rect class="c Ye" x="107.25" width="35.75" height="390"/>
<use href="#X" y="390" width="35.75" height="15"/><rect class="wc" x="35.75" y="390" width="71.5" height="15"/><use href="#X" x="107.25" y="390" width="35.75" height="15"/>
<text class="kid" x="71.5" y="400.8">어린이집</text>
<g transform="translate(17.9,.5)"><text y="11">2704</text><text y="26">2604</text><text y="41">2504</text><text y="56">2404</text><text y="71">2304</text><text y="86">2204</text><text y="101">2104</text><text y="116">2004</text><text y="131">1904</text><text y="146">1804</text><text y="161">1704</text><text y="176">1604</text><text y="191">1504</text><text y="206">1404</text><text y="221">1304</text><text y="236">1204</text><text y="251">1104</text><text y="266">1004</text><text y="281">904</text><text y="296">804</text><text y="311">704</text><text y="326">604</text><text y="341">504</text><text y="356">404</text><text y="371">304</text><text y="386">204</text></g>
<g transform="translate(53.6,.5)"><text y="11">2703</text><text y="26">2603</text><text y="41">2503</text><text y="56">2403</text><text y="71">2303</text><text y="86">2203</text><text y="101">2103</text><text y="116">2003</text><text y="131">1903</text><text y="146">1803</text><text y="161">1703</text><text y="176">1603</text><text y="191">1503</text><text y="206">1403</text><text y="221">1303</text><text y="236">1203</text><text y="251">1103</text><text y="266">1003</text><text y="281">903</text><text y="296">803</text><text y="311">703</text><text y="326">603</text><text y="341">503</text><text y="356">403</text><text y="371">303</text><text y="386">203</text></g>
<g transform="translate(89.4,.5)"><text y="11">2702</text><text y="26">2602</text><text y="41">2502</text><text y="56">2402</text><text y="71">2302</text><text y="86">2202</text><text y="101">2102</text><text y="116">2002</text><text y="131">1902</text><text y="146">1802</text><text y="161">1702</text><text y="176">1602</text><text y="191">1502</text><text y="206">1402</text><text y="221">1302</text><text y="236">1202</text><text y="251">1102</text><text y="266">1002</text><text y="281">902</text><text y="296">802</text><text y="311">702</text><text y="326">602</text><text y="341">502</text><text y="356">402</text><text y="371">302</text><text y="386">202</text></g>
<g transform="translate(125.1,.5)"><text y="11">2701</text><text y="26">2601</text><text y="41">2501</text><text y="56">2401</text><text y="71">2301</text><text y="86">2201</text><text y="101">2101</text><text y="116">2001</text><text y="131">1901</text><text y="146">1801</text><text y="161">1701</text><text y="176">1601</text><text y="191">1501</text><text y="206">1401</text><text y="221">1301</text><text y="236">1201</text><text y="251">1101</text><text y="266">1001</text><text y="281">901</text><text y="296">801</text><text y="311">701</text><text y="326">601</text><text y="341">501</text><text y="356">401</text><text y="371">301</text><text y="386">201</text></g>
</g>
<g transform="translate(633.5,1044)">
<path class="ln" d="M0 .5H143M35.75 0V15M71.5 0V15M107.25 0V15"/>
<text class="n" x="17.9" y="11">4</text><text class="n" x="53.6" y="11">3</text><text class="n" x="89.4" y="11">2</text><text class="n" x="125.1" y="11">1</text>
<rect class="bl" y="15" width="35.75" height="29.5"/><rect class="pk" x="35.75" y="15" width="35.75" height="29.5"/><rect class="lb" x="71.5" y="15" width="35.75" height="29.5"/><rect class="ye" x="107.25" y="15" width="35.75" height="29.5"/>
<text class="u" x="17.9" y="33.7">84D</text><text class="u" x="53.6" y="33.7">84B</text><text class="u" x="89.4" y="33.7">84A</text><text class="u" x="125.1" y="33.7">102</text>
<rect class="bar" y="45" width="143" height="15"/><text class="bt" x="71.5" y="56.5">111동</text>
</g>
</g>

<!-- 112 -->
<g id="b112">
<g transform="translate(789,626) scale(1,.99267)">
<rect class="c Pu" width="35.5" height="375"/>
<rect class="c Pk" x="35.5" width="35.5" height="405"/>
<rect class="c Ye" x="71" width="35.5" height="405"/>
<use href="#X" y="375" width="35.5" height="15"/><use href="#X" y="390" width="35.5" height="15"/>
<g transform="translate(17.75,.5)"><text y="11">2703</text><text y="26">2603</text><text y="41">2503</text><text y="56">2403</text><text y="71">2303</text><text y="86">2203</text><text y="101">2103</text><text y="116">2003</text><text y="131">1903</text><text y="146">1803</text><text y="161">1703</text><text y="176">1603</text><text y="191">1503</text><text y="206">1403</text><text y="221">1303</text><text y="236">1203</text><text y="251">1103</text><text y="266">1003</text><text y="281">903</text><text y="296">803</text><text y="311">703</text><text y="326">603</text><text y="341">503</text><text y="356">403</text><text y="371">303</text></g>
<g transform="translate(53.25,.5)"><text y="11">2702</text><text y="26">2602</text><text y="41">2502</text><text y="56">2402</text><text y="71">2302</text><text y="86">2202</text><text y="101">2102</text><text y="116">2002</text><text y="131">1902</text><text y="146">1802</text><text y="161">1702</text><text y="176">1602</text><text y="191">1502</text><text y="206">1402</text><text y="221">1302</text><text y="236">1202</text><text y="251">1102</text><text y="266">1002</text><text y="281">902</text><text y="296">802</text><text y="311">702</text><text y="326">602</text><text y="341">502</text><text y="356">402</text><text y="371">302</text><text y="386">202</text><text y="401">102</text></g>
<g transform="translate(88.75,.5)"><text y="11">2701</text><text y="26">2601</text><text y="41">2501</text><text y="56">2401</text><text y="71">2301</text><text y="86">2201</text><text y="101">2101</text><text y="116">2001</text><text y="131">1901</text><text y="146">1801</text><text y="161">1701</text><text y="176">1601</text><text y="191">1501</text><text y="206">1401</text><text y="221">1301</text><text y="236">1201</text><text y="251">1101</text><text y="266">1001</text><text y="281">901</text><text y="296">801</text><text y="311">701</text><text y="326">601</text><text y="341">501</text><text y="356">401</text><text y="371">301</text><text y="386">201</text><text y="401">101</text></g>
</g>
<g transform="translate(789,1044)">
<path class="ln" d="M0 .5H106.5M35.5 0V15M71 0V15"/>
<text class="n" x="17.75" y="11">3</text><text class="n" x="53.25" y="11">2</text><text class="n" x="88.75" y="11">1</text>
<rect class="pu" y="15" width="35.5" height="29.5"/><rect class="pk" x="35.5" y="15" width="35.5" height="29.5"/><rect class="ye" x="71" y="15" width="35.5" height="29.5"/>
<text class="u" x="17.75" y="33.7">84C</text><text class="u" x="53.25" y="33.7">84B</text><text class="u" x="88.75" y="33.7">102</text>
<rect class="bar" y="45" width="106.5" height="15"/><text class="bt" x="53.25" y="56.5">112동</text>
</g>
</g>

<!-- 113 -->
<g id="b113">
<g transform="translate(907,626) scale(1,.99267)">
<rect class="c Bl" y="135" width="35.75" height="255"/>
<rect class="c Pk" x="35.75" y="135" width="35.75" height="255"/>
<rect class="c Lb" x="71.5" y="150" width="35.75" height="240"/>
<rect class="c Ye" x="107.25" y="150" width="35.75" height="240"/>
<rect class="box" x="72.5" y="135.8" width="69.5" height="13.4"/><text x="107.25" y="146.5">1801</text>
<use href="#X" y="390" width="35.75" height="15"/><use href="#X" x="35.75" y="390" width="35.75" height="15"/><use href="#X" x="71.5" y="390" width="35.75" height="15"/><use href="#X" x="107.25" y="390" width="35.75" height="15"/>
<g transform="translate(17.9,.5)"><text y="146">1804</text><text y="161">1704</text><text y="176">1604</text><text y="191">1504</text><text y="206">1404</text><text y="221">1304</text><text y="236">1204</text><text y="251">1104</text><text y="266">1004</text><text y="281">904</text><text y="296">804</text><text y="311">704</text><text y="326">604</text><text y="341">504</text><text y="356">404</text><text y="371">304</text><text y="386">204</text></g>
<g transform="translate(53.6,.5)"><text y="146">1803</text><text y="161">1703</text><text y="176">1603</text><text y="191">1503</text><text y="206">1403</text><text y="221">1303</text><text y="236">1203</text><text y="251">1103</text><text y="266">1003</text><text y="281">903</text><text y="296">803</text><text y="311">703</text><text y="326">603</text><text y="341">503</text><text y="356">403</text><text y="371">303</text><text y="386">203</text></g>
<g transform="translate(89.4,.5)"><text y="161">1702</text><text y="176">1602</text><text y="191">1502</text><text y="206">1402</text><text y="221">1302</text><text y="236">1202</text><text y="251">1102</text><text y="266">1002</text><text y="281">902</text><text y="296">802</text><text y="311">702</text><text y="326">602</text><text y="341">502</text><text y="356">402</text><text y="371">302</text><text y="386">202</text></g>
<g transform="translate(125.1,.5)"><text y="161">1701</text><text y="176">1601</text><text y="191">1501</text><text y="206">1401</text><text y="221">1301</text><text y="236">1201</text><text y="251">1101</text><text y="266">1001</text><text y="281">901</text><text y="296">801</text><text y="311">701</text><text y="326">601</text><text y="341">501</text><text y="356">401</text><text y="371">301</text><text y="386">201</text></g>
</g>
<g transform="translate(907,1044)">
<path class="ln" d="M0 .5H143M35.75 0V15M71.5 0V15M107.25 0V15"/>
<text class="n" x="17.9" y="11">4</text><text class="n" x="53.6" y="11">3</text><text class="n" x="89.4" y="11">2</text><text class="n" x="125.1" y="11">1</text>
<rect class="bl" y="15" width="35.75" height="29.5"/><rect class="pk" x="35.75" y="15" width="35.75" height="29.5"/>
<text class="u" x="17.9" y="33.7">84D</text><text class="u" x="53.6" y="33.7">84B</text>
<rect class="box" x="72.5" y="16" width="69.5" height="12.5"/><text class="u" x="107.25" y="26">166P</text>
<rect class="lb" x="71.5" y="29.5" width="35.75" height="15"/><rect class="ye" x="107.25" y="29.5" width="35.75" height="15"/>
<text class="u" x="89.4" y="41">84A</text><text class="u" x="125.1" y="41">102</text>
<rect class="bar" y="45" width="143" height="15"/><text class="bt" x="71.5" y="56.5">113동</text>
</g>
</g>

<g id="legend">
<rect x="978.5" y="1130.5" width="36.5" height="11.5" fill="#fff" stroke="#a2a2b0" stroke-width=".8"/>
<path d="M978.5 1130.5L1015 1142M978.5 1142L1015 1130.5" stroke="#b0b0bc" stroke-width=".8"/>
<text class="lg" x="1018.5" y="1140.5" textLength="26" lengthAdjust="spacingAndGlyphs">필로티</text>
<rect x="978.5" y="1153" width="36.5" height="12" fill="#dedede" stroke="#a2a2b0" stroke-width=".8"/>
<path d="M978.5 1153L1015 1165M978.5 1165L1015 1153" stroke="#a0a0a8" stroke-width=".8"/>
<text class="lg" x="1018.5" y="1164.5">PIT</text>
</g>
</svg>
